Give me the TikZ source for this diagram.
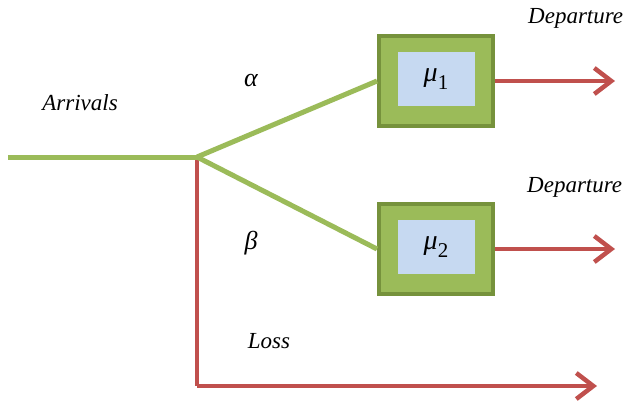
\documentclass[tikz,border=0pt]{standalone}
\usepackage{fontspec}
\setmainfont{Liberation Serif}
\usetikzlibrary{arrows.meta}
\definecolor{lgreen}{RGB}{155,187,89}
\definecolor{dgreen}{RGB}{118,146,60}
\definecolor{lblue}{RGB}{198,217,241}
\definecolor{lred}{RGB}{192,80,77}
\newcommand{\mysub}[1]{\raisebox{-0.3em}{\fontsize{21}{22}\selectfont\upshape #1}}
\begin{document}
\begin{tikzpicture}[x=1pt,y=-1pt,
  gline/.style={draw=lgreen,line width=5pt},
  rline/.style={draw=lred,line width=4.5pt},
  rarrow/.style={rline,-{Straight Barb[length=17pt,width=26pt,line width=4.5pt]}},
  outerbox/.style={draw=dgreen,fill=lgreen,line width=4pt,minimum width=114pt,minimum height=90pt,inner sep=0pt},
  innerbox/.style={fill=lblue,minimum width=77pt,minimum height=54pt,inner sep=0pt,font=\fontsize{28}{30}\selectfont\itshape},
  lbl/.style={font=\fontsize{23}{26}\selectfont\itshape},
  greek/.style={font=\fontsize{26}{28}\selectfont\itshape}]
\useasboundingbox (0,0) rectangle (627,408);
\coordinate (start) at (8,157);
\coordinate (j) at (197,157);
\coordinate (corner) at (197,386);
\coordinate (lossend) at (597,386);
\node[outerbox] (b1) at (436,81) {};
\node[innerbox] (i1) at (436,79) {μ\mysub{1}};
\node[outerbox] (b2) at (436,249) {};
\node[innerbox] (i2) at (436,247) {μ\mysub{2}};
\coordinate (d1) at (615,81);
\coordinate (d2) at (615,249);
\draw[rline] (j) -- (corner);
\draw[rarrow] (corner) -- (lossend);
\draw[gline] (start) -- (j);
\draw[gline] (j) -- (b1.west);
\draw[gline] (j) -- (b2.west);
\draw[rarrow] (b1.east) -- (d1);
\draw[rarrow] (b2.east) -- (d2);
\node[lbl,anchor=west,inner sep=0pt] (dep1) at (528,18) {Departure};
\node[lbl,anchor=west,inner sep=0pt] (dep2) at (527,187) {Departure};
\node[lbl] (arr) at (80,103) {Arrivals};
\node[lbl] (loss) at (269,341) {Loss};
\node[greek] (al) at (251,80) {α};
\node[greek] (be) at (251,243) {β};
\end{tikzpicture}
\end{document}
